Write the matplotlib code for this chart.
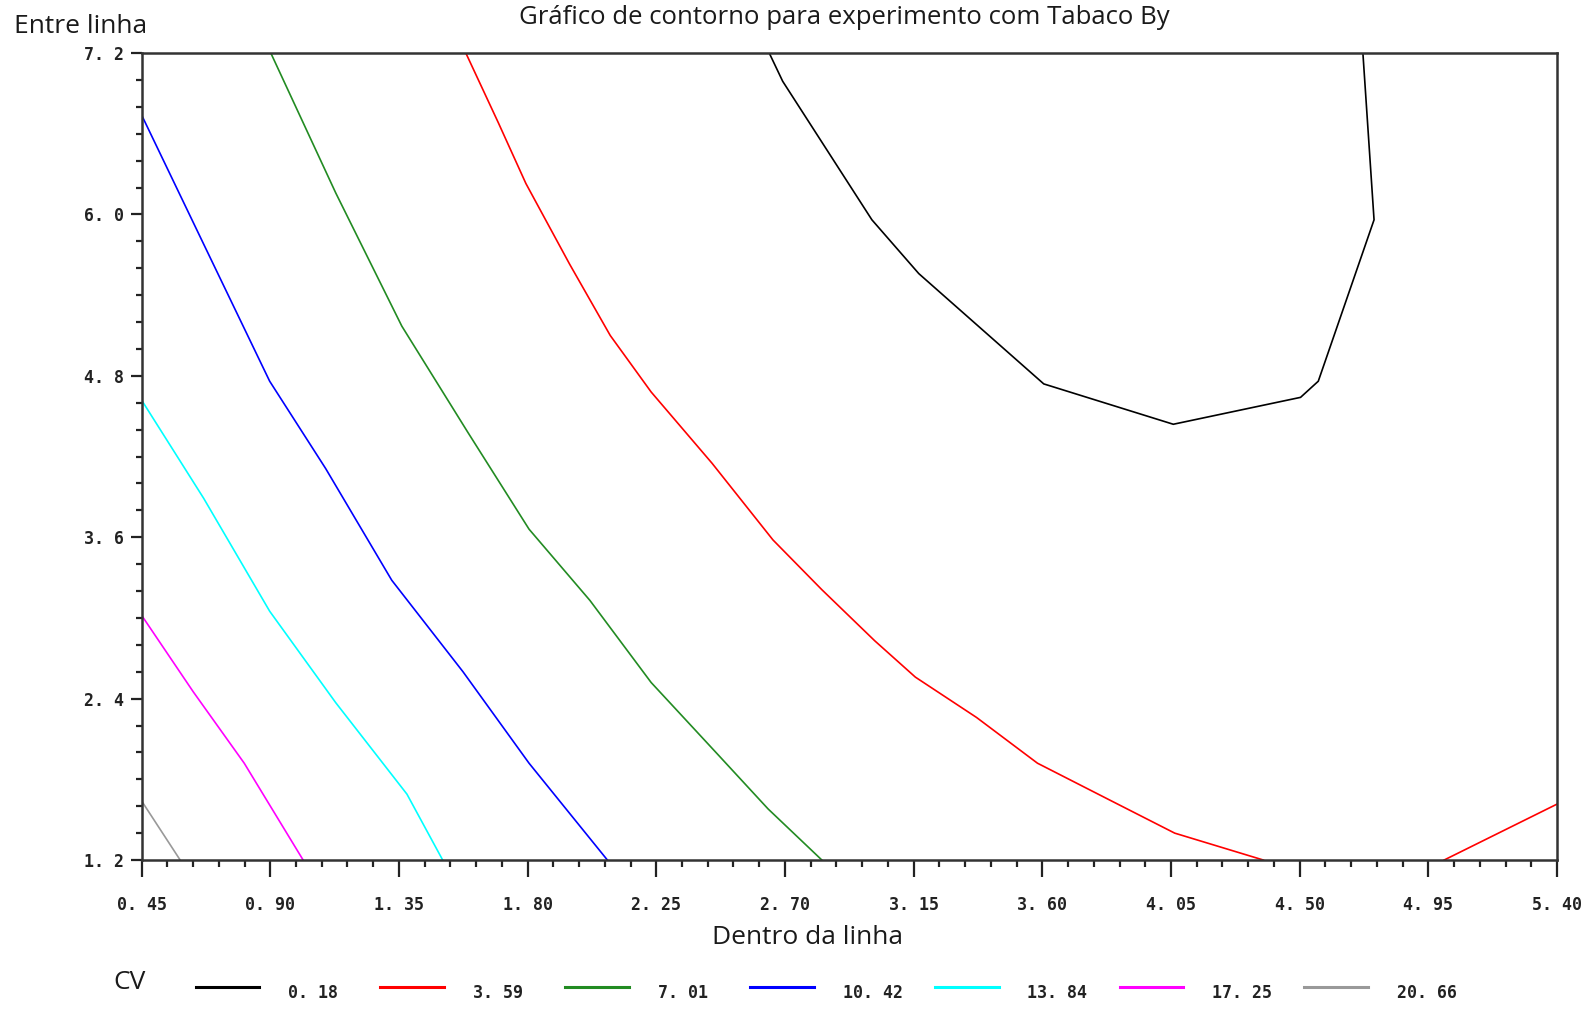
import matplotlib
matplotlib.use("Agg")
import matplotlib.pyplot as plt
from matplotlib.lines import Line2D
from matplotlib.font_manager import FontProperties

# níveis de CV e cores de cada contorno
levels = ["0. 18", "3. 59", "7. 01", "10. 42", "13. 84", "17. 25", "20. 66"]
colors = ["#000000", "#ff0000", "#228b22", "#0000ff", "#00ffff", "#ff00ff", "#999999"]

# contornos (x = Dentro da linha, y = Entre linha)
cv_018_x = [2.645, 2.692, 3.004, 3.168, 3.605, 4.058, 4.503, 4.565, 4.760, 4.721]
cv_018_y = [7.20, 6.99, 5.96, 5.56, 4.74, 4.44, 4.64, 4.76, 5.96, 7.20]

cv_359_x = [1.584, 1.698, 1.794, 1.947, 2.089, 2.232, 2.445, 2.658, 2.829, 3.014,
            3.156, 3.370, 3.583, 3.832, 4.063, 4.373]
cv_359_y = [7.20, 6.68, 6.23, 5.63, 5.10, 4.68, 4.15, 3.58, 3.21, 2.83,
            2.56, 2.26, 1.92, 1.65, 1.40, 1.20]
cv_359b_x = [5.005, 5.40]
cv_359b_y = [1.20, 1.616]

cv_701_x = [0.902, 1.129, 1.360, 1.591, 1.805, 2.018, 2.232, 2.463, 2.641, 2.829]
cv_701_y = [7.20, 6.16, 5.17, 4.38, 3.66, 3.13, 2.52, 1.99, 1.58, 1.20]

cv_1042_x = [0.45, 0.667, 0.898, 1.094, 1.325, 1.574, 1.805, 2.079]
cv_1042_y = [6.74, 5.78, 4.76, 4.11, 3.28, 2.60, 1.92, 1.20]

cv_1384_x = [0.45, 0.667, 0.898, 1.129, 1.378, 1.503]
cv_1384_y = [4.62, 3.89, 3.05, 2.37, 1.69, 1.20]

cv_1725_x = [0.45, 0.631, 0.809, 1.015]
cv_1725_y = [3.02, 2.45, 1.92, 1.20]

cv_2066_x = [0.45, 0.585]
cv_2066_y = [1.64, 1.20]

contours = [
    [(cv_018_x, cv_018_y)],
    [(cv_359_x, cv_359_y), (cv_359b_x, cv_359b_y)],
    [(cv_701_x, cv_701_y)],
    [(cv_1042_x, cv_1042_y)],
    [(cv_1384_x, cv_1384_y)],
    [(cv_1725_x, cv_1725_y)],
    [(cv_2066_x, cv_2066_y)],
]

x_ticks = [0.45, 0.90, 1.35, 1.80, 2.25, 2.70, 3.15, 3.60, 4.05, 4.50, 4.95, 5.40]
x_labels = ["0. 45", "0. 90", "1. 35", "1. 80", "2. 25", "2. 70", "3. 15",
            "3. 60", "4. 05", "4. 50", "4. 95", "5. 40"]
y_ticks = [1.2, 2.4, 3.6, 4.8, 6.0, 7.2]
y_labels = ["1. 2", "2. 4", "3. 6", "4. 8", "6. 0", "7. 2"]

fig = plt.figure(figsize=(15.96, 10.16), dpi=100)
ax = fig.add_axes([0.0887, 0.1535, 0.8869, 0.7943])

for segs, c in zip(contours, colors):
    for xs, ys in segs:
        ax.plot(xs, ys, color=c, lw=1.2, solid_joinstyle="miter")

ax.set_xlim(0.45, 5.40)
ax.set_ylim(1.2, 7.2)

ax.set_xticks(x_ticks)
ax.set_xticklabels(x_labels)
ax.set_xticks([0.45 + 0.09 * i for i in range(56)], minor=True)
ax.set_yticks(y_ticks)
ax.set_yticklabels(y_labels)
ax.set_yticks([1.2 + 0.2 * i for i in range(31)], minor=True)

tick_fp = FontProperties(family="DejaVu Sans Mono", weight="bold", size=12)
for lab in ax.get_xticklabels() + ax.get_yticklabels():
    lab.set_fontproperties(tick_fp)
    lab.set_color("#222222")

ax.tick_params(axis="x", which="major", length=12, width=1.6, pad=14, color="#222222")
ax.tick_params(axis="x", which="minor", length=5, width=1.6, color="#222222")
ax.tick_params(axis="y", which="major", length=8, width=1.6, pad=5, color="#222222")
ax.tick_params(axis="y", which="minor", length=4, width=1.6, color="#222222")

for sp in ax.spines.values():
    sp.set_linewidth(1.8)
    sp.set_color("#333333")

txt_font = "Open Sans"
fig.text(0.529, 0.983, "Gráfico de contorno para experimento com Tabaco By",
         ha="center", va="center", fontsize=18.5, family=txt_font, color="#1a1a1a")
fig.text(0.009, 0.974, "Entre linha", ha="left", va="center", fontsize=19,
         family=txt_font, color="#1a1a1a")
fig.text(0.506, 0.077, "Dentro da linha", ha="center", va="center", fontsize=19,
         family=txt_font, color="#1a1a1a")
fig.text(0.071, 0.033, "CV", ha="left", va="center", fontsize=19,
         family=txt_font, color="#1a1a1a")

# legenda manual, igual ao SAS
for i, (lab, c) in enumerate(zip(levels, colors)):
    x0 = 0.1225 + i * 0.1158
    fig.add_artist(Line2D([x0, x0 + 0.040], [0.0285, 0.0285], color=c, lw=2.2,
                          transform=fig.transFigure))
    fig.text(x0 + 0.058, 0.023, lab, ha="left", va="center", color="#222222",
             fontproperties=tick_fp)

fig.savefig("out.png", dpi=100)
